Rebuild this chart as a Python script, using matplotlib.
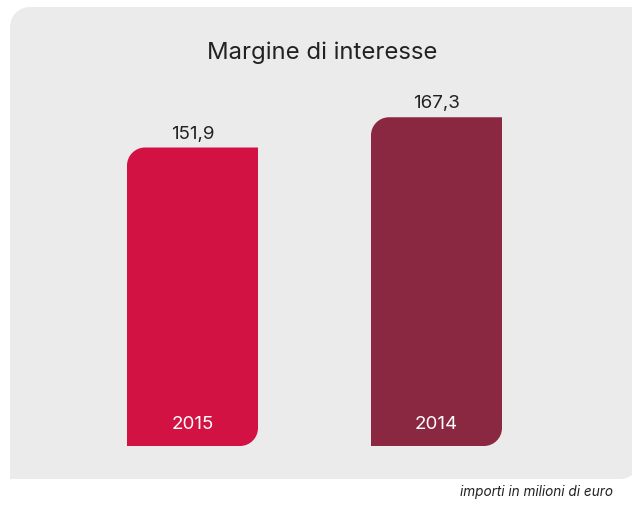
import matplotlib
matplotlib.use('Agg')
import matplotlib.pyplot as plt
from matplotlib.path import Path
from matplotlib.patches import PathPatch

# data
years = ['2015', '2014']
values = [151.9, 167.3]
value_labels = ['151,9', '167,3']
colors = ['#D11242', '#8A2841']
title = 'Margine di interesse'
note = 'importi in milioni di euro'

W, H = 632, 510
K = 0.5523


def leaf_path(x0, y0, x1, y1, rx, ry):
    # rectangle with rounded top-left and bottom-right corners
    verts = [
        (x0, y0),
        (x1 - rx, y0),
        (x1 - rx + K * rx, y0), (x1, y0 + ry - K * ry), (x1, y0 + ry),
        (x1, y1),
        (x0 + rx, y1),
        (x0 + rx - K * rx, y1), (x0, y1 - ry + K * ry), (x0, y1 - ry),
        (x0, y0),
    ]
    codes = [Path.MOVETO, Path.LINETO,
             Path.CURVE4, Path.CURVE4, Path.CURVE4,
             Path.LINETO, Path.LINETO,
             Path.CURVE4, Path.CURVE4, Path.CURVE4,
             Path.CLOSEPOLY]
    return Path(verts, codes)


plt.rcParams['font.family'] = ['Inter', 'DejaVu Sans']
fig = plt.figure(figsize=(W / 100, H / 100), dpi=100)

# background panel, in pixel units on a full-figure axes
bg = fig.add_axes([0, 0, 1, 1])
bg.set_xlim(0, W)
bg.set_ylim(H, 0)
bg.axis('off')
bg.add_patch(PathPatch(leaf_path(10, 480, 640, 8, 20, -20), facecolor='#EBEBEB',
                       edgecolor='none'))

# bar axes: zero line at y=447 px, 244 px between bar centres
px_per_unit_x = 244
px_per_unit_y = 1.965
x_first = 192.5
ax = fig.add_axes([0, (H - 447) / H, 1, 447 / H])
ax.set_xlim(-x_first / px_per_unit_x, (W - x_first) / px_per_unit_x)
ax.set_ylim(0, 447 / px_per_unit_y)
ax.axis('off')
ax.patch.set_alpha(0)

bar_w = 131 / px_per_unit_x
r = 18
rx = r / px_per_unit_x
ry = r / px_per_unit_y
for i, (yr, v, lab, c) in enumerate(zip(years, values, value_labels, colors)):
    ax.add_patch(PathPatch(leaf_path(i - bar_w / 2, 0, i + bar_w / 2, v, rx, ry),
                           facecolor=c, edgecolor='none'))
    ax.text(i, v + 6 / px_per_unit_y, lab, ha='center', va='bottom',
            fontsize=13.5, color='#222222')
    ax.text(i, 22 / px_per_unit_y, yr, ha='center', va='center',
            fontsize=13.5, color='white')

bg.text(322, 53, title, ha='center', va='center', fontsize=17.2, color='#222222')
bg.text(613, 492, note, ha='right', va='center', fontsize=9.8, style='italic',
        color='#222222')

fig.savefig('out.png', dpi=100, facecolor='white')
